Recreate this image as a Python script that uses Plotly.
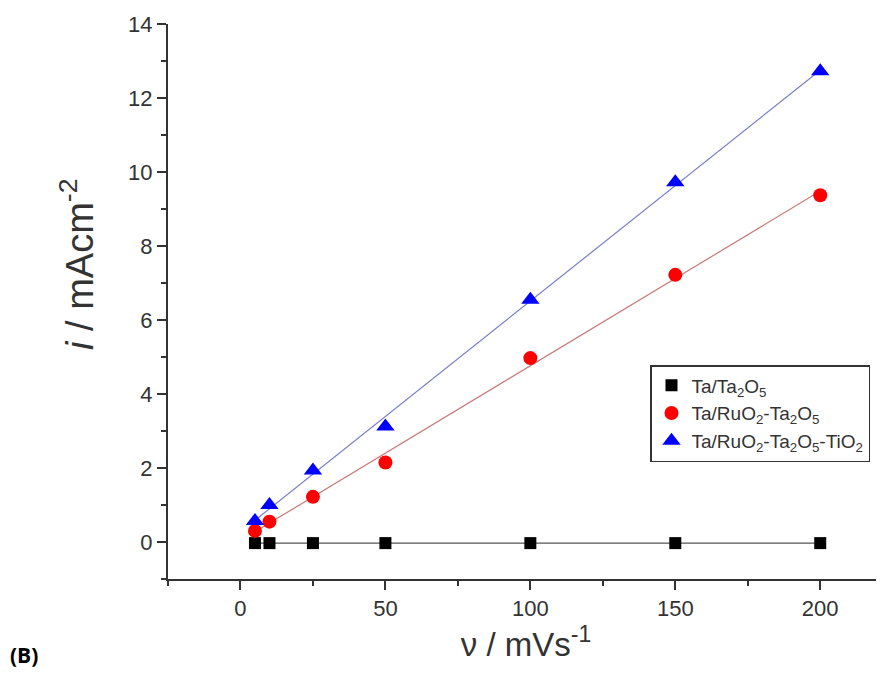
import numpy as np
import plotly.graph_objects as go

scan_rate = [5, 10, 25, 50, 100, 150, 200]
ta_ta2o5 = [-0.03, -0.03, -0.03, -0.03, -0.03, -0.03, -0.03]
ta_ruo2_ta2o5 = [0.30, 0.55, 1.22, 2.15, 4.97, 7.22, 9.37]
ta_ruo2_ta2o5_tio2 = [0.57, 1.00, 1.93, 3.12, 6.55, 9.72, 12.72]

names = ["Ta/Ta<sub>2</sub>O<sub>5</sub>",
         "Ta/RuO<sub>2</sub>-Ta<sub>2</sub>O<sub>5</sub>",
         "Ta/RuO<sub>2</sub>-Ta<sub>2</sub>O<sub>5</sub>-TiO<sub>2</sub>"]

x = np.array(scan_rate, dtype=float)
xfit = np.array([x.min(), x.max()])

fig = go.Figure()

fig.add_trace(go.Scatter(x=scan_rate, y=ta_ta2o5, mode="lines",
                         line=dict(color="#555555", width=1.2),
                         showlegend=False, hoverinfo="skip"))
for ys, col in [(ta_ruo2_ta2o5, "#c87878"), (ta_ruo2_ta2o5_tio2, "#7a7ec4")]:
    p = np.polyfit(x, np.array(ys), 1)
    fig.add_trace(go.Scatter(x=xfit, y=np.polyval(p, xfit), mode="lines",
                             line=dict(color=col, width=1.2),
                             showlegend=False, hoverinfo="skip"))

fig.add_trace(go.Scatter(x=scan_rate, y=ta_ta2o5, mode="markers", name=names[0],
                         marker=dict(symbol="square", size=12, color="black")))
fig.add_trace(go.Scatter(x=scan_rate, y=ta_ruo2_ta2o5, mode="markers", name=names[1],
                         marker=dict(symbol="circle", size=14, color="#ff0000")))
fig.add_trace(go.Scatter(x=scan_rate, y=ta_ruo2_ta2o5_tio2, mode="markers", name=names[2],
                         marker=dict(symbol="triangle-up", size=16, color="#0000ff")))

FONT = "Liberation Sans, Arial, sans-serif"
axis_common = dict(showgrid=False, zeroline=False, showline=True, linecolor="#333333",
                   linewidth=2, ticks="outside", ticklen=9, tickwidth=2, tickcolor="#333333",
                   tickfont=dict(family=FONT, size=22, color="#333333"),
                   mirror=False)

W, H = 876, 667
L, R, T, B = 160, 0, 16, 96
pw, ph = W - L - R, H - T - B

fig.update_layout(
    width=W, height=H,
    margin=dict(l=L, r=R, t=T, b=B, autoexpand=False),
    paper_bgcolor="white", plot_bgcolor="white",
    xaxis=dict(range=[-25, 222], tickvals=[0, 50, 100, 150, 200],
               minor=dict(tickvals=[-25, 25, 75, 125, 175], ticks="outside", ticklen=5,
                          tickwidth=2, tickcolor="#333333"),
               title=dict(text="\u03bd / mVs<sup>-1</sup>", standoff=4,
                          font=dict(family=FONT, size=33, color="#333333")),
               **axis_common),
    yaxis=dict(range=[-1, 14], tickvals=[0, 2, 4, 6, 8, 10, 12, 14],
               minor=dict(tickvals=[-1, 1, 3, 5, 7, 9, 11, 13], ticks="outside", ticklen=5,
                          tickwidth=2, tickcolor="#333333"),
               **axis_common),
    legend=dict(x=(642 - L) / pw, y=(T + ph - 357) / ph, xanchor="left", yanchor="top",
                bgcolor="white", bordercolor="#333333", borderwidth=1.5,
                font=dict(family=FONT, size=19, color="#333333"),
                tracegroupgap=0),
)
# y-axis title (placed off-centre as in the reference)
fig.add_annotation(text="<i>i</i> / mAcm<sup>-2</sup>", xref="paper", yref="paper",
                   x=(69 - L) / pw, y=(T + ph - 257) / ph, xanchor="center", yanchor="middle",
                   textangle=-90, showarrow=False,
                   font=dict(family=FONT, size=38, color="#333333"))
fig.add_annotation(text="<b>(B)</b>", xref="paper", yref="paper",
                   x=(0 - L) / pw, y=(T + ph - 647) / ph, xanchor="left", yanchor="middle",
                   showarrow=False,
                   font=dict(family="Open Sans, Liberation Sans, sans-serif", size=21,
                             color="black"))

fig.write_html("out.html")
